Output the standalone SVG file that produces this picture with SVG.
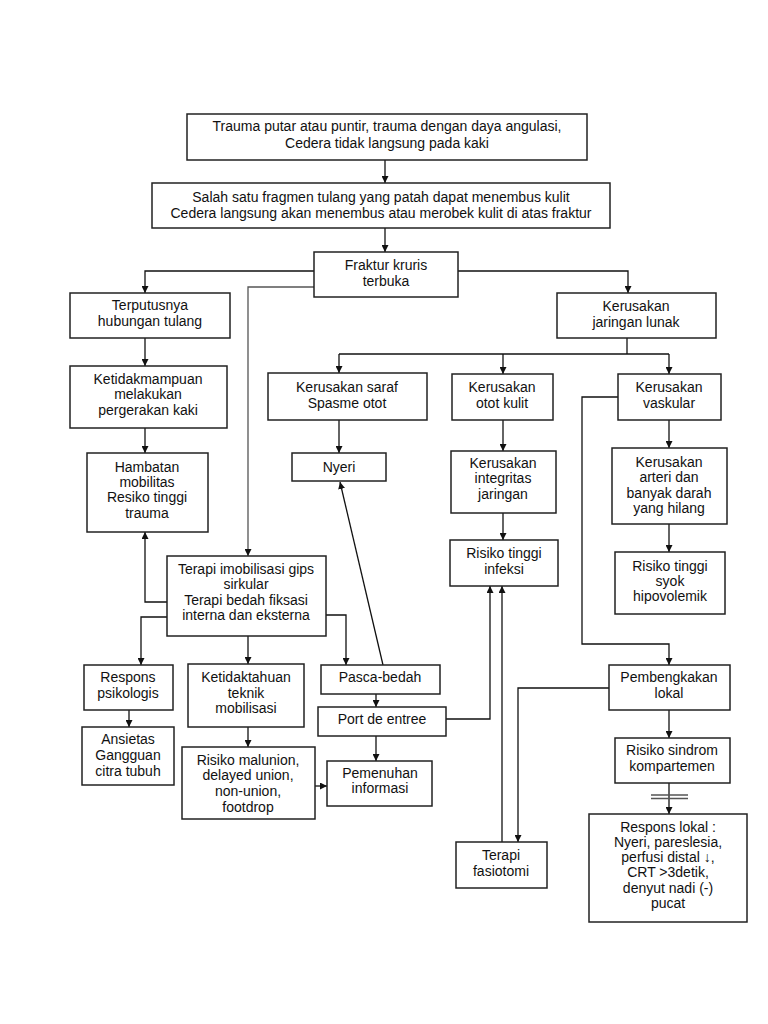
<svg xmlns="http://www.w3.org/2000/svg" width="768" height="1024" viewBox="0 0 768 1024">
<style>
rect.b{fill:#fff;stroke:#222;stroke-width:1.5}
text{font-family:"Liberation Sans",Arial,sans-serif;font-size:14px;fill:#111;text-anchor:middle}
.c path{fill:none;stroke:#111;stroke-width:1.3}
.c path.g{stroke:#555}
</style>
<defs>
<marker id="ah" viewBox="0 0 10 10" refX="10" refY="5" markerWidth="7" markerHeight="7" markerUnits="userSpaceOnUse" orient="auto">
<path d="M0,0 L10,5 L0,10 z" fill="#111"/>
</marker>
</defs>
<rect width="768" height="1024" fill="#fff"/>
<g class="c" id="connectors">
<path d="M385,160 V183" marker-end="url(#ah)"/>
<path d="M385,228 V252" marker-end="url(#ah)"/>
<path d="M314,271 H145 V293" marker-end="url(#ah)"/>
<path class="g" d="M314,287 H248 V556" marker-end="url(#ah)"/>
<path d="M458,271 H628 V293" marker-end="url(#ah)"/>
<path d="M145,338 V366" marker-end="url(#ah)"/>
<path d="M145,428 V453" marker-end="url(#ah)"/>
<path d="M167,602 H145 V532" marker-end="url(#ah)"/>
<path d="M167,617 H141 V665" marker-end="url(#ah)"/>
<path d="M326,615 H346 V665" marker-end="url(#ah)"/>
<path d="M248,636 V664" marker-end="url(#ah)"/>
<path d="M248,727 V747" marker-end="url(#ah)"/>
<path d="M129,710 V727" marker-end="url(#ah)"/>
<path d="M315,786 H327" marker-end="url(#ah)"/>
<path d="M376,694 V707" marker-end="url(#ah)"/>
<path d="M376,736 V761" marker-end="url(#ah)"/>
<path d="M383,665 L340,482" marker-end="url(#ah)"/>
<path d="M627,338 V354"/>
<path d="M339,354 H669"/>
<path d="M339,354 V373" marker-end="url(#ah)"/>
<path d="M503,354 V374" marker-end="url(#ah)"/>
<path d="M669,354 V374" marker-end="url(#ah)"/>
<path d="M339,420 V453" marker-end="url(#ah)"/>
<path d="M503,420 V451" marker-end="url(#ah)"/>
<path d="M503,513 V540" marker-end="url(#ah)"/>
<path d="M669,420 V448" marker-end="url(#ah)"/>
<path d="M669,524 V552" marker-end="url(#ah)"/>
<path d="M618,397 H582 V644 H669 V665" marker-end="url(#ah)"/>
<path d="M446,719 H490 V586" marker-end="url(#ah)"/>
<path d="M502,842 V586" marker-end="url(#ah)"/>
<path d="M609,688 H518 V842" marker-end="url(#ah)"/>
<path d="M669,710 V738" marker-end="url(#ah)"/>
<path d="M669,783 V814" marker-end="url(#ah)"/>
<path class="g" d="M651,795 H688 M651,798.5 H688"/>
</g>
<g id="n1"><rect class="b" x="187" y="114" width="400" height="46"/><text x="387" y="131">Trauma putar atau puntir, trauma dengan daya angulasi,</text><text x="387" y="148">Cedera tidak langsung pada kaki</text></g>
<g id="n2"><rect class="b" x="152" y="183" width="458" height="45"/><text x="381" y="202">Salah satu fragmen tulang yang patah dapat menembus kulit</text><text x="381" y="218">Cedera langsung akan menembus atau merobek kulit di atas fraktur</text></g>
<g id="n3"><rect class="b" x="314" y="252" width="144" height="45"/><text x="386" y="270">Fraktur kruris</text><text x="386" y="286">terbuka</text></g>
<g id="n4"><rect class="b" x="70" y="293" width="160" height="45"/><text x="150" y="310">Terputusnya</text><text x="150" y="326">hubungan tulang</text></g>
<g id="n5"><rect class="b" x="557" y="293" width="159" height="45"/><text x="636" y="311">Kerusakan</text><text x="636" y="327">jaringan lunak</text></g>
<g id="n6"><rect class="b" x="70" y="366" width="157" height="62"/><text x="148" y="384">Ketidakmampuan</text><text x="148" y="399">melakukan</text><text x="148" y="415">pergerakan kaki</text></g>
<g id="n7"><rect class="b" x="87" y="453" width="121" height="79"/><text x="147" y="472">Hambatan</text><text x="147" y="487">mobilitas</text><text x="147" y="502">Resiko tinggi</text><text x="147" y="518">trauma</text></g>
<g id="n8"><rect class="b" x="268" y="373" width="159" height="47"/><text x="347" y="392">Kerusakan saraf</text><text x="347" y="408">Spasme otot</text></g>
<g id="n9"><rect class="b" x="292" y="453" width="94" height="28"/><text x="339" y="472">Nyeri</text></g>
<g id="n10"><rect class="b" x="452" y="374" width="101" height="46"/><text x="502" y="392">Kerusakan</text><text x="502" y="408">otot kulit</text></g>
<g id="n11"><rect class="b" x="618" y="374" width="103" height="46"/><text x="669" y="392">Kerusakan</text><text x="669" y="408">vaskular</text></g>
<g id="n12"><rect class="b" x="451" y="451" width="105" height="62"/><text x="503" y="468">Kerusakan</text><text x="503" y="483">integritas</text><text x="503" y="499">jaringan</text></g>
<g id="n13"><rect class="b" x="450" y="540" width="108" height="46"/><text x="504" y="558">Risiko tinggi</text><text x="504" y="574">infeksi</text></g>
<g id="n14"><rect class="b" x="612" y="448" width="115" height="76"/><text x="669" y="467">Kerusakan</text><text x="669" y="482">arteri dan</text><text x="669" y="498">banyak darah</text><text x="669" y="513">yang hilang</text></g>
<g id="n15"><rect class="b" x="615" y="552" width="110" height="62"/><text x="670" y="571">Risiko tinggi</text><text x="670" y="586">syok</text><text x="670" y="601">hipovolemik</text></g>
<g id="n16"><rect class="b" x="167" y="556" width="159" height="80"/><text x="246" y="574">Terapi imobilisasi gips</text><text x="246" y="589">sirkular</text><text x="246" y="605">Terapi bedah fiksasi</text><text x="246" y="620">interna dan eksterna</text></g>
<g id="n17"><rect class="b" x="84" y="665" width="89" height="45"/><text x="128" y="682">Respons</text><text x="128" y="698">psikologis</text></g>
<g id="n18"><rect class="b" x="82" y="727" width="92" height="58"/><text x="128" y="744">Ansietas</text><text x="128" y="760">Gangguan</text><text x="128" y="776">citra tubuh</text></g>
<g id="n19"><rect class="b" x="188" y="664" width="116" height="63"/><text x="246" y="682">Ketidaktahuan</text><text x="246" y="698">teknik</text><text x="246" y="713">mobilisasi</text></g>
<g id="n20"><rect class="b" x="182" y="747" width="133" height="72"/><text x="248" y="765">Risiko malunion,</text><text x="248" y="780">delayed union,</text><text x="248" y="796">non-union,</text><text x="248" y="812">footdrop</text></g>
<g id="n21"><rect class="b" x="321" y="665" width="119" height="29"/><text x="380" y="682">Pasca-bedah</text></g>
<g id="n22"><rect class="b" x="318" y="707" width="128" height="29"/><text x="382" y="724">Port de entree</text></g>
<g id="n23"><rect class="b" x="327" y="761" width="105" height="45"/><text x="380" y="778">Pemenuhan</text><text x="380" y="793">informasi</text></g>
<g id="n24"><rect class="b" x="609" y="665" width="121" height="45"/><text x="669" y="682">Pembengkakan</text><text x="669" y="698">lokal</text></g>
<g id="n25"><rect class="b" x="615" y="738" width="115" height="45"/><text x="672" y="755">Risiko sindrom</text><text x="672" y="771">kompartemen</text></g>
<g id="n26"><rect class="b" x="456" y="842" width="91" height="46"/><text x="501" y="860">Terapi</text><text x="501" y="876">fasiotomi</text></g>
<g id="n27"><rect class="b" x="589" y="814" width="158" height="108"/><text x="668" y="832">Respons lokal :</text><text x="668" y="847">Nyeri, pareslesia,</text><text x="668" y="862">perfusi distal <tspan font-weight="bold">↓</tspan>,</text><text x="668" y="877">CRT &gt;3detik,</text><text x="668" y="893">denyut nadi (-)</text><text x="668" y="908">pucat</text></g>
</svg>
